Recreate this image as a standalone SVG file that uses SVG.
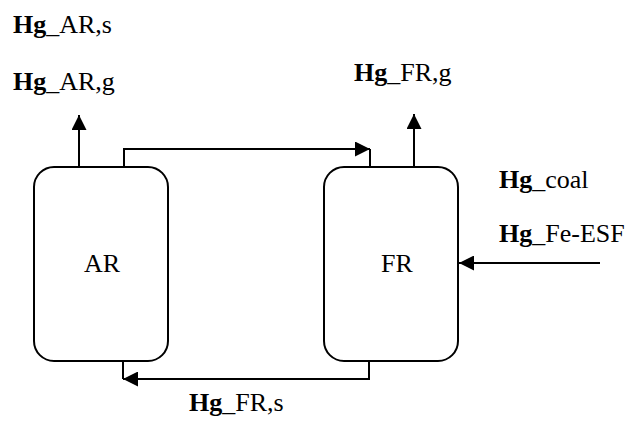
<svg xmlns="http://www.w3.org/2000/svg" width="630" height="423" viewBox="0 0 630 423">
  <style>
    .box { fill: #ffffff; stroke: #000000; stroke-width: 2; }
    .flow { fill: none; stroke: #000000; stroke-width: 2; }
    .lbl { font-family: 'Liberation Serif', 'Times New Roman', serif; font-size: 26px; fill: #000000; }
    .b { font-weight: bold; }
    .mid { text-anchor: middle; }
  </style>
  <defs>
    <marker id="arrow" viewBox="0 0 10 10" refX="10" refY="5" markerWidth="15" markerHeight="15" markerUnits="userSpaceOnUse" orient="auto">
      <path d="M0,0 L10,5 L0,10 Z" fill="#000000"/>
    </marker>
  </defs>

  <!-- Stream labels -->
  <g id="labels">
    <text class="lbl" x="13" y="33"><tspan class="b">Hg</tspan>_AR,s</text>
    <text class="lbl" x="13" y="90"><tspan class="b">Hg</tspan>_AR,g</text>
    <text class="lbl" x="354" y="81"><tspan class="b">Hg</tspan>_FR,g</text>
    <text class="lbl" x="499" y="188"><tspan class="b">Hg</tspan>_coal</text>
    <text class="lbl" x="499" y="242"><tspan class="b">Hg</tspan>_Fe-ESF</text>
    <text class="lbl" x="189" y="411"><tspan class="b">Hg</tspan>_FR,s</text>
  </g>

  <!-- Connectors -->
  <g id="connectors">
    <path class="flow" d="M79,167 V115" marker-end="url(#arrow)"/>
    <path class="flow" d="M414,167 V114" marker-end="url(#arrow)"/>
    <path class="flow" d="M124,167 V149 H370" marker-end="url(#arrow)"/>
    <path class="flow" d="M370,149 V167"/>
    <path class="flow" d="M369,361 V379 H123" marker-end="url(#arrow)"/>
    <path class="flow" d="M123,379 V361"/>
    <path class="flow" d="M600,263 H459" marker-end="url(#arrow)"/>
  </g>

  <!-- Air reactor -->
  <g id="AR">
    <rect class="box" x="34" y="167" width="134" height="194" rx="20" ry="20"/>
    <text class="lbl mid" x="102" y="272">AR</text>
  </g>

  <!-- Fuel reactor -->
  <g id="FR">
    <rect class="box" x="324" y="167" width="134" height="194" rx="20" ry="20"/>
    <text class="lbl mid" x="397" y="272">FR</text>
  </g>
</svg>
